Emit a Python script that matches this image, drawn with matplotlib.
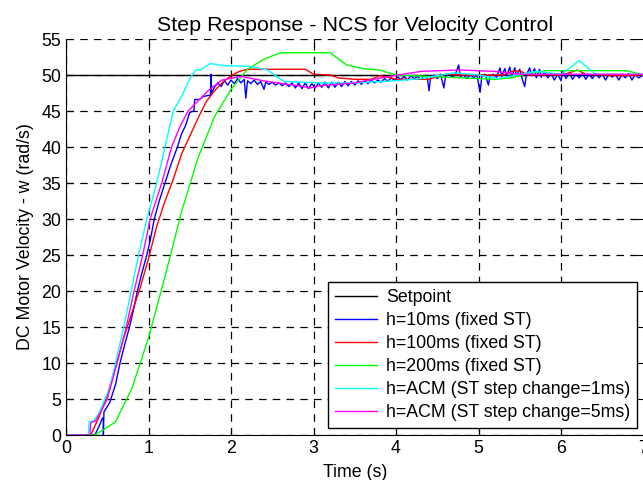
import matplotlib
matplotlib.use("Agg")
import matplotlib.pyplot as plt

plt.rcParams['font.family'] = ['Liberation Sans', 'DejaVu Sans']
plt.rcParams['font.size'] = 12.8

# data
setpoint_t = [0, 7]
setpoint_v = [50, 50]

blue_t = [0, 0.35, 0.40, 0.44, 0.452, 0.453, 0.46, 0.53, 0.60, 0.655, 0.71, 0.77, 0.82,
          0.865, 0.92, 0.98, 1.02, 1.07, 1.13, 1.20, 1.27, 1.35, 1.40, 1.45, 1.50, 1.55,
          1.56, 1.62, 1.66, 1.70, 1.75, 1.76, 1.765, 1.80,
          1.84, 1.88, 1.92, 1.96, 2.00, 2.04, 2.08, 2.12, 2.16, 2.18, 2.20, 2.24, 2.28,
          2.32, 2.36, 2.40, 2.42, 2.46, 2.50, 2.54, 2.58, 2.62, 2.66, 2.70, 2.74, 2.78,
          2.82, 2.86, 2.90, 2.94, 2.98, 3.02, 3.06, 3.10, 3.14, 3.18, 3.22, 3.26, 3.30,
          3.34, 3.38, 3.42, 3.46, 3.50, 3.54, 3.58, 3.62, 3.66, 3.70, 3.74, 3.78, 3.82,
          3.86, 3.90, 3.94, 3.98, 4.02, 4.06, 4.10, 4.14, 4.18, 4.22, 4.26, 4.30, 4.34,
          4.38, 4.40, 4.42, 4.46, 4.50, 4.54, 4.58, 4.60, 4.64, 4.68, 4.72, 4.76, 4.78,
          4.82, 4.86, 4.90, 4.94, 4.98, 5.02, 5.04, 5.08, 5.12, 5.14, 5.18, 5.22, 5.26,
          5.28, 5.32, 5.34, 5.38, 5.40, 5.44, 5.46, 5.50, 5.52, 5.56, 5.58, 5.62, 5.64,
          5.68, 5.70, 5.74, 5.76, 5.80, 5.84, 5.88, 5.92, 5.96, 6.00, 6.02, 6.06, 6.10,
          6.14, 6.18, 6.22, 6.26, 6.30, 6.34, 6.38, 6.42, 6.46, 6.50, 6.54, 6.58, 6.62,
          6.66, 6.70, 6.74, 6.78, 6.82, 6.86, 6.90, 6.94, 7.00]
blue_v = [0, 0, 1.2, 2.3, 2.4, 0, 3.2, 4.5, 7.0, 10.0, 12.5, 15.0, 17.5,
          20.0, 22.5, 25.0, 27.0, 30.0, 32.5, 35.0, 37.5, 40.0, 41.8, 43.0, 44.8, 45.0,
          46.6, 46.6, 47.0, 47.1, 47.2, 50.1, 47.5, 48.3,
          48.9, 48.4, 49.2, 48.6, 49.3, 48.8, 49.5, 48.9, 49.4, 46.8, 49.2, 48.8, 49.3,
          48.7, 49.1, 48.0, 49.0, 48.7, 49.0, 48.6, 48.9, 48.5, 48.9, 48.4, 48.9, 48.2,
          48.9, 48.1, 48.9, 48.1, 48.8, 48.2, 48.9, 48.3, 49.0, 48.2, 49.0, 48.3, 49.0,
          48.4, 49.1, 48.5, 49.1, 48.6, 49.2, 48.7, 49.2, 48.8, 49.3, 48.9, 49.3, 49.0,
          49.5, 49.1, 49.6, 49.3, 49.7, 49.4, 49.8, 49.3, 49.9, 49.5, 49.8, 49.4, 49.9,
          49.6, 47.8, 49.7, 50.0, 49.5, 50.1, 48.2, 49.8, 50.2, 49.7, 50.1, 51.4, 49.8,
          50.0, 49.5, 50.1, 49.6, 50.0, 47.6, 49.9, 50.1, 48.6, 49.9, 50.1, 49.7, 51.0,
          49.8, 50.9, 49.9, 51.1, 49.7, 51.0, 49.9, 50.8, 49.8, 48.4, 50.0, 51.0, 49.9,
          50.9, 49.6, 50.8, 49.7, 50.4, 49.6, 50.2, 49.3, 50.1, 49.2, 50.6, 49.5, 50.3,
          49.4, 50.1, 49.6, 50.2, 49.4, 50.1, 49.5, 50.2, 49.6, 50.1, 49.3, 50.1, 49.7,
          50.1, 49.3, 50.1, 49.6, 50.2, 49.3, 50.1, 49.6, 50.0]

red_t = [0, 0.3, 0.4, 0.5, 0.6, 0.7, 0.8, 0.9, 1.0, 1.1, 1.2, 1.3, 1.4, 1.5, 1.6, 1.7,
         1.8, 1.9, 2.0, 2.1, 2.2, 2.9, 3.0, 3.2, 3.3, 3.5, 3.7, 3.8, 3.9, 4.0, 4.4, 4.6,
         4.8, 5.3, 5.4, 5.5, 5.6, 6.0, 6.1, 6.2, 6.3, 6.5, 6.7, 7.0]
red_v = [0, 0, 2.5, 5.5, 9.5, 13.5, 17.0, 20.5, 24.5, 29.0, 32.5, 35.5, 39.0, 41.5, 44.0,
         46.3, 47.8, 49.0, 49.9, 50.5, 50.8, 50.8, 50.1, 50.0, 49.6, 49.4, 49.4, 49.9, 49.7,
         49.4, 49.4, 50.1, 50.0, 50.0, 50.5, 50.6, 50.0, 50.0, 50.3, 50.7, 50.1, 50.0, 49.9,
         50.0]

green_t = [0, 0.35, 0.6, 0.8, 1.0, 1.2, 1.4, 1.6, 1.8, 2.0, 2.2, 2.4, 2.6, 3.2, 3.4,
           3.6, 3.8, 4.0, 4.4, 4.8, 5.2, 5.4, 5.6, 5.8, 6.0, 6.8, 7.0]
green_v = [0, 0, 1.8, 6.5, 13.5, 22.0, 31.0, 38.5, 44.2, 48.0, 50.8, 52.2, 53.1, 53.1,
           51.4, 50.9, 50.7, 50.0, 49.8, 49.6, 49.4, 49.6, 50.2, 50.6, 50.6, 50.6, 50.0]

cyan_t = [0, 0.27, 0.28, 0.33, 0.40, 0.47, 0.53, 0.60, 0.70, 0.79, 0.88, 0.98, 1.10,
          1.20, 1.30, 1.40, 1.50, 1.57, 1.63, 1.75, 1.91, 2.23, 2.44, 2.64, 3.08, 3.5,
          4.0, 4.3, 4.7, 5.0, 5.23, 5.51, 5.7, 6.0, 6.22, 6.42, 7.0]
cyan_v = [0, 0, 1.85, 1.9, 3.0, 5.0, 6.5, 10.0, 15.0, 20.0, 25.0, 30.0, 35.0,
          40.0, 45.0, 47.0, 49.5, 50.7, 50.7, 51.6, 51.3, 51.2, 50.7, 49.1, 48.9, 48.9,
          49.2, 49.5, 50.3, 50.0, 49.5, 50.1, 50.5, 50.1, 52.0, 50.1, 50.1]

magenta_t = [0, 0.29, 0.30, 0.36, 0.42, 0.50, 0.62, 0.73, 0.825, 0.93, 1.02, 1.16,
             1.28, 1.38, 1.48, 1.61, 1.73, 1.89, 2.12, 2.44, 2.76, 2.96, 3.08, 3.49,
             3.97, 4.30, 4.78, 5.19, 5.51, 7.0]
magenta_v = [0, 0, 1.7, 2.0, 3.2, 5.0, 10.0, 15.0, 20.0, 25.0, 30.0, 35.0,
             40.0, 42.8, 45.0, 46.5, 47.9, 49.3, 49.8, 49.1, 48.6, 48.2, 48.5, 48.9,
             49.9, 50.5, 50.7, 50.5, 50.1, 50.1]

labels = ['Setpoint', 'h=10ms (fixed ST)', 'h=100ms (fixed ST)', 'h=200ms (fixed ST)',
          'h=ACM (ST step change=1ms)', 'h=ACM (ST step change=5ms)']

fig = plt.figure(figsize=(6.43, 4.8), dpi=100)
ax = fig.add_axes([66 / 643, 45 / 480, 577.5 / 643, 396 / 480])

lw = 1.0
ax.plot(setpoint_t, setpoint_v, color='black', lw=lw, label=labels[0])
ax.plot(blue_t, blue_v, color=(0, 0, 1), lw=lw, label=labels[1])
ax.plot(red_t, red_v, color=(1, 0, 0), lw=lw, label=labels[2])
ax.plot(green_t, green_v, color=(0, 1, 0), lw=lw, label=labels[3])
ax.plot(cyan_t, cyan_v, color=(0, 1, 1), lw=lw, label=labels[4])
ax.plot(magenta_t, magenta_v, color=(1, 0, 1), lw=lw, label=labels[5])

ax.set_xlim(0, 7)
ax.set_ylim(0, 55)
ax.set_xticks(range(0, 8))
ax.set_yticks(range(0, 56, 5))
ax.tick_params(direction='in', length=5, top=True, right=True, pad=3.5)
ax.grid(True, color='black', linestyle=(0, (6, 5)), linewidth=0.9)
ax.spines['top'].set_visible(False)
ax.spines['right'].set_visible(False)

ax.set_title('Step Response - NCS for Velocity Control', pad=6)
ax.set_xlabel('Time (s)', labelpad=5)
ax.set_ylabel('DC Motor Velocity - w (rad/s)', labelpad=5)

leg = ax.legend(loc='lower right', bbox_to_anchor=(0.989, 0.018), borderaxespad=0,
                fancybox=False, framealpha=1, edgecolor='black', handlelength=2.36,
                labelspacing=0.33, borderpad=0.4, handletextpad=0.5)
leg.get_frame().set_linewidth(1.0)

fig.savefig('out.png', dpi=100)
